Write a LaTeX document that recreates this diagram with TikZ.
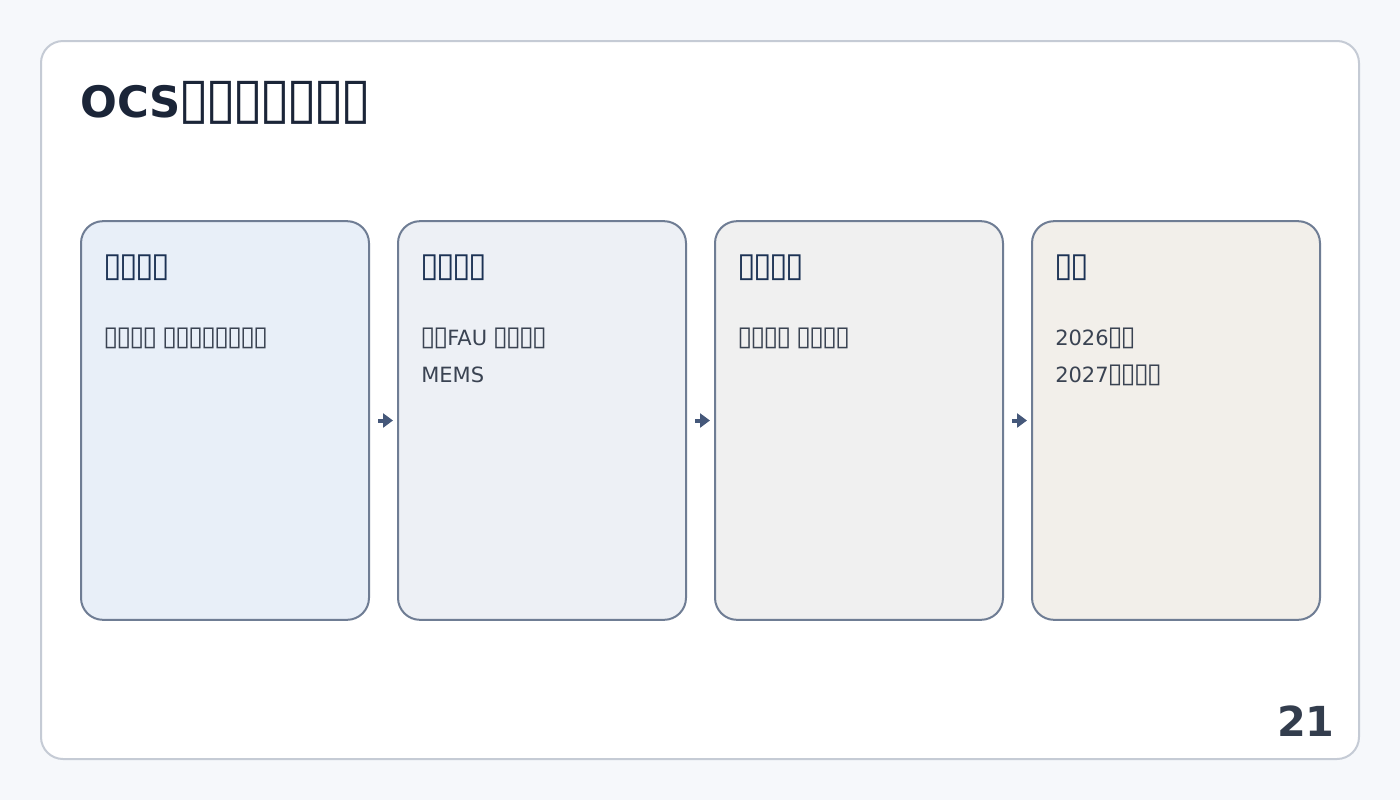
\documentclass[tikz,border=0pt]{standalone}
\usepackage{fontspec}
\usepackage{graphicx}
\setmainfont{DejaVu Sans}
\usetikzlibrary{arrows.meta,calc}

\definecolor{pagebg}{HTML}{F6F8FB}
\definecolor{panelline}{HTML}{C5CBD5}
\definecolor{cardline}{HTML}{6F7D94}
\definecolor{cardA}{HTML}{E8EFF8}
\definecolor{cardB}{HTML}{EDF0F5}
\definecolor{cardC}{HTML}{F0F0F0}
\definecolor{cardD}{HTML}{F2EFEA}
\definecolor{titlecol}{HTML}{1B2538}
\definecolor{headcol}{HTML}{1C3254}
\definecolor{bodycol}{HTML}{3A4352}
\definecolor{arrowcol}{HTML}{45587A}
\definecolor{numcol}{HTML}{333D4D}

% glyph the page shows for characters its font lacks
\newcommand\tofu{\makebox[0.62em]{\scalebox{1.3}[1.3]{▯}}}

\begin{document}
\begin{tikzpicture}[x=0.75pt, y=-0.75pt,
    card/.style = {draw=cardline, line width=1.5pt, rounded corners=16.5pt,
      minimum width=216pt, minimum height=299pt, inner sep=0pt},
    heading/.style = {anchor=base west, inner sep=0pt, text=headcol,
      font=\fontsize{19.5pt}{23pt}\selectfont\bfseries},
    body/.style = {anchor=base west, inner sep=0pt, text=bodycol,
      font=\fontsize{15.75pt}{19pt}\selectfont},
    flow/.style = {arrowcol, line width=3pt,
      -{Triangle[length=7.5pt, width=10.5pt]},
      shorten <=6pt, shorten >=3pt}]
  \fill[pagebg] (0,0) rectangle (1400,800);
  \useasboundingbox (0,0) rectangle (1400,800);
  \draw[panelline, fill=white, line width=1.5pt, rounded corners=16.5pt]
    (41,41) rectangle (1359,759);
  \node[anchor=base west, inner sep=0pt, text=titlecol,
    font=\fontsize{32.5pt}{36pt}\selectfont\bfseries] (title) at (80,117)
    {OCS\tofu\tofu\tofu\tofu\tofu\tofu\tofu};
  % four stages
  \foreach \i/\x/\col/\hd/\la/\lb in {
      1/225/cardA/{\tofu\tofu\tofu\tofu}/{\tofu\tofu\tofu\tofu{} \tofu\tofu\tofu\tofu\tofu\tofu\tofu\tofu}/{},
      2/542/cardB/{\tofu\tofu\tofu\tofu}/{\tofu\tofu FAU \tofu\tofu\tofu\tofu}/{MEMS},
      3/859/cardC/{\tofu\tofu\tofu\tofu}/{\tofu\tofu\tofu\tofu{} \tofu\tofu\tofu\tofu}/{},
      4/1176/cardD/{\tofu\tofu}/{2026\tofu\tofu}/{2027\tofu\tofu\tofu\tofu}} {
    \node[card, fill=\col] (c\i) at (\x,420.5) {};
    \node[heading] (h\i) at ($(c\i.north west)+(24,56)$) {\hd};
    \node[body] (b\i a) at ($(c\i.north west)+(24,125)$) {\la};
    \node[body] (b\i b) at ($(c\i.north west)+(24,162)$) {\lb};
  }
  \draw[flow] (c1.east) -- (c2.west);
  \draw[flow] (c2.east) -- (c3.west);
  \draw[flow] (c3.east) -- (c4.west);
  \node[anchor=base east, inner sep=0pt, text=numcol,
    font=\fontsize{31pt}{36pt}\selectfont\bfseries] (pagenum) at (1335,736) {21};
\end{tikzpicture}
\end{document}
